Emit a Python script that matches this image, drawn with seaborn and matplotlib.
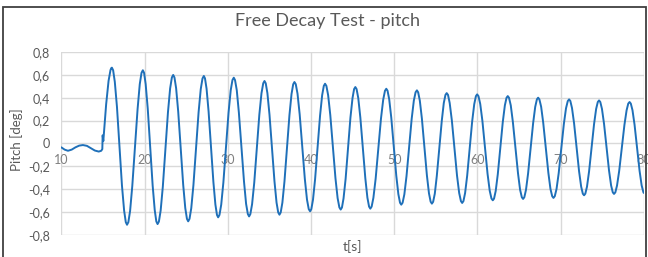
"""Free decay test (pitch) - Excel style line chart redrawn with seaborn."""

import matplotlib

matplotlib.use("Agg")

import matplotlib.pyplot as plt
import pandas as pd
import seaborn as sns
from matplotlib.patches import Rectangle

# Pitch time series: t [s] and pitch [deg].
# Small drift before release, then the free decay oscillation
# (one row per half swing, extremum first).
TIME_S = [
    10.00, 10.40, 10.80, 11.25, 11.70, 12.15, 12.60, 13.08, 13.55, 14.03,
    14.50, 14.80, 14.93, 14.97, 15.05, 15.22, 15.39, 15.68, 15.91, 16.00,
    16.08, 16.23, 16.43, 16.69, 16.99, 17.29, 17.55, 17.75,
    17.90, 18.06, 18.27, 18.53, 18.85, 19.17, 19.43, 19.64,
    19.80, 19.95, 20.14, 20.39, 20.69, 20.98, 21.23, 21.42,
    21.57, 21.73, 21.94, 22.20, 22.51, 22.82, 23.08, 23.29,
    23.45, 23.60, 23.80, 24.05, 24.35, 24.65, 24.90, 25.10,
    25.25, 25.41, 25.62, 25.88, 26.19, 26.50, 26.76, 26.97,
    27.13, 27.27, 27.46, 27.70, 27.99, 28.28, 28.52, 28.71,
    28.85, 29.01, 29.22, 29.48, 29.79, 30.10, 30.36, 30.57,
    30.73, 30.88, 31.09, 31.34, 31.65, 31.96, 32.21, 32.42,
    32.57, 32.72, 32.93, 33.19, 33.50, 33.80, 34.06, 34.27,
    34.42, 34.57, 34.77, 35.02, 35.32, 35.62, 35.87, 36.07,
    36.22, 36.37, 36.57, 36.82, 37.12, 37.42, 37.67, 37.87,
    38.02, 38.18, 38.39, 38.65, 38.96, 39.27, 39.53, 39.74,
    39.90, 40.05, 40.25, 40.50, 40.80, 41.10, 41.35, 41.55,
    41.70, 41.86, 42.07, 42.33, 42.64, 42.95, 43.21, 43.42,
    43.58, 43.73, 43.92, 44.17, 44.46, 44.75, 45.00, 45.19,
    45.34, 45.49, 45.69, 45.94, 46.24, 46.54, 46.79, 46.99,
    47.14, 47.30, 47.51, 47.78, 48.10, 48.42, 48.69, 48.90,
    49.06, 49.21, 49.41, 49.66, 49.96, 50.26, 50.51, 50.71,
    50.86, 51.02, 51.23, 51.49, 51.80, 52.11, 52.37, 52.58,
    52.74, 52.89, 53.09, 53.34, 53.64, 53.94, 54.19, 54.39,
    54.54, 54.69, 54.89, 55.13, 55.43, 55.73, 55.97, 56.17,
    56.32, 56.48, 56.68, 56.94, 57.25, 57.56, 57.82, 58.03,
    58.18, 58.33, 58.53, 58.78, 59.08, 59.38, 59.63, 59.83,
    59.98, 60.14, 60.35, 60.61, 60.92, 61.23, 61.49, 61.70,
    61.86, 62.01, 62.21, 62.46, 62.76, 63.06, 63.31, 63.51,
    63.66, 63.81, 64.02, 64.27, 64.58, 64.89, 65.14, 65.35,
    65.50, 65.65, 65.85, 66.10, 66.41, 66.71, 66.96, 67.16,
    67.31, 67.46, 67.67, 67.92, 68.23, 68.54, 68.79, 69.00,
    69.15, 69.31, 69.52, 69.78, 70.09, 70.40, 70.66, 70.87,
    71.03, 71.18, 71.38, 71.63, 71.93, 72.23, 72.48, 72.68,
    72.83, 72.98, 73.18, 73.43, 73.73, 74.03, 74.28, 74.48,
    74.63, 74.78, 74.98, 75.23, 75.53, 75.83, 76.08, 76.28,
    76.43, 76.59, 76.79, 77.05, 77.37, 77.68, 77.94, 78.14,
    78.30, 78.45, 78.65, 78.90, 79.20, 79.50, 79.75, 79.95, 80.00,
]
PITCH_DEG = [
    -0.035, -0.055, -0.065, -0.055, -0.035, -0.020, -0.015, -0.022, -0.042, -0.063,
    -0.072, -0.065, -0.050, 0.070, 0.020, 0.186, 0.342, 0.547, 0.641, 0.658,
    0.663, 0.640, 0.539, 0.319, -0.025, -0.369, -0.589, -0.690,
    -0.713, -0.690, -0.591, -0.375, -0.037, 0.302, 0.518, 0.617,
    0.640, 0.617, 0.518, 0.303, -0.034, -0.370, -0.585, -0.684,
    -0.707, -0.685, -0.589, -0.381, -0.054, 0.273, 0.481, 0.577,
    0.599, 0.577, 0.483, 0.279, -0.042, -0.363, -0.567, -0.661,
    -0.683, -0.661, -0.568, -0.365, -0.047, 0.272, 0.475, 0.568,
    0.590, 0.569, 0.478, 0.281, -0.029, -0.339, -0.536, -0.627,
    -0.648, -0.627, -0.537, -0.342, -0.037, 0.269, 0.464, 0.554,
    0.575, 0.554, 0.465, 0.271, -0.033, -0.336, -0.530, -0.619,
    -0.640, -0.620, -0.533, -0.344, -0.047, 0.250, 0.439, 0.526,
    0.546, 0.526, 0.440, 0.253, -0.040, -0.332, -0.519, -0.605,
    -0.625, -0.605, -0.520, -0.335, -0.044, 0.247, 0.432, 0.517,
    0.537, 0.518, 0.435, 0.254, -0.029, -0.312, -0.493, -0.576,
    -0.595, -0.576, -0.494, -0.316, -0.037, 0.243, 0.421, 0.503,
    0.522, 0.503, 0.422, 0.247, -0.029, -0.305, -0.480, -0.561,
    -0.580, -0.562, -0.483, -0.312, -0.044, 0.225, 0.396, 0.475,
    0.493, 0.475, 0.397, 0.227, -0.040, -0.306, -0.476, -0.554,
    -0.572, -0.554, -0.477, -0.310, -0.047, 0.216, 0.383, 0.460,
    0.478, 0.461, 0.386, 0.224, -0.030, -0.283, -0.445, -0.520,
    -0.537, -0.520, -0.447, -0.287, -0.037, 0.214, 0.374, 0.447,
    0.464, 0.447, 0.374, 0.216, -0.032, -0.280, -0.438, -0.511,
    -0.528, -0.512, -0.441, -0.286, -0.044, 0.198, 0.353, 0.424,
    0.440, 0.424, 0.353, 0.200, -0.041, -0.282, -0.435, -0.506,
    -0.522, -0.506, -0.436, -0.284, -0.047, 0.191, 0.343, 0.413,
    0.429, 0.413, 0.345, 0.197, -0.035, -0.267, -0.415, -0.483,
    -0.499, -0.484, -0.417, -0.271, -0.043, 0.186, 0.332, 0.399,
    0.414, 0.399, 0.333, 0.189, -0.037, -0.262, -0.406, -0.472,
    -0.487, -0.472, -0.407, -0.265, -0.044, 0.178, 0.320, 0.385,
    0.400, 0.385, 0.321, 0.181, -0.039, -0.259, -0.399, -0.463,
    -0.478, -0.463, -0.400, -0.262, -0.047, 0.169, 0.307, 0.370,
    0.385, 0.371, 0.309, 0.175, -0.035, -0.245, -0.379, -0.441,
    -0.455, -0.441, -0.380, -0.247, -0.040, 0.168, 0.301, 0.362,
    0.376, 0.362, 0.302, 0.171, -0.034, -0.238, -0.369, -0.429,
    -0.443, -0.429, -0.370, -0.242, -0.041, 0.161, 0.289, 0.348,
    0.362, 0.348, 0.290, 0.162, -0.039, -0.240, -0.368, -0.426, -0.434,
]

X_TICKS = [10, 20, 30, 40, 50, 60, 70, 80]
X_TICK_LABELS = ["10", "20", "30", "40", "50", "60", "70", "80"]
Y_TICKS = [-0.8, -0.6, -0.4, -0.2, 0.0, 0.2, 0.4, 0.6, 0.8]
Y_TICK_LABELS = ["-0,8", "-0,6", "-0,4", "-0,2", "0", "0,2", "0,4", "0,6", "0,8"]

TITLE = "Free Decay Test - pitch"
X_LABEL = "t[s]"
Y_LABEL = "Pitch [deg]"

LINE_COLOR = "#1f70b9"
GRID_COLOR = "#d9d9d9"
TEXT_COLOR = "#595959"


def main() -> None:
    sns.set_theme(style="whitegrid")
    plt.rcParams["font.family"] = ["Lato", "DejaVu Sans"]

    df = pd.DataFrame({"t": TIME_S, "pitch": PITCH_DEG})

    fig = plt.figure(figsize=(6.48, 2.57), dpi=100)
    ax = fig.add_axes([0.0946, 0.0868, 0.8988, 0.7109])

    sns.lineplot(
        data=df,
        x="t",
        y="pitch",
        estimator=None,
        sort=False,
        color=LINE_COLOR,
        linewidth=1.4,
        ax=ax,
    )

    ax.set_xlim(10, 80)
    ax.set_ylim(-0.8, 0.8)
    ax.set_xticks(X_TICKS, X_TICK_LABELS)
    ax.set_yticks(Y_TICKS, Y_TICK_LABELS)
    ax.grid(True, color=GRID_COLOR, linewidth=1.0)
    ax.set_axisbelow(True)
    ax.set_facecolor("white")

    # Excel draws the category axis where the value axis crosses zero.
    ax.spines["bottom"].set_position(("data", 0))
    for side in ["top", "right", "bottom", "left"]:
        ax.spines[side].set_visible(False)
    ax.tick_params(axis="x", length=0, pad=8, labelsize=9, labelcolor="#7f7f7f")
    ax.tick_params(axis="y", length=0, pad=8, labelsize=9, labelcolor=TEXT_COLOR)

    ax.set_xlabel("")
    ax.set_ylabel("")
    fig.text(0.5432, 0.039, X_LABEL, ha="center", va="center",
             fontsize=10, color=TEXT_COLOR)
    fig.text(0.025, 0.455, Y_LABEL, ha="center", va="center", rotation=90,
             fontsize=9.5, color=TEXT_COLOR)
    fig.text(0.505, 0.918, TITLE, ha="center", va="center",
             fontsize=13, color=TEXT_COLOR)

    # chart area border
    fig.patches.append(
        Rectangle((3 / 648, -0.05), 643 / 648, 1.05 - 7 / 257,
                  transform=fig.transFigure, fill=False,
                  edgecolor="#404040", linewidth=1.3)
    )

    fig.savefig("out.png", dpi=100, facecolor="white")
    plt.close(fig)


if __name__ == "__main__":
    main()
